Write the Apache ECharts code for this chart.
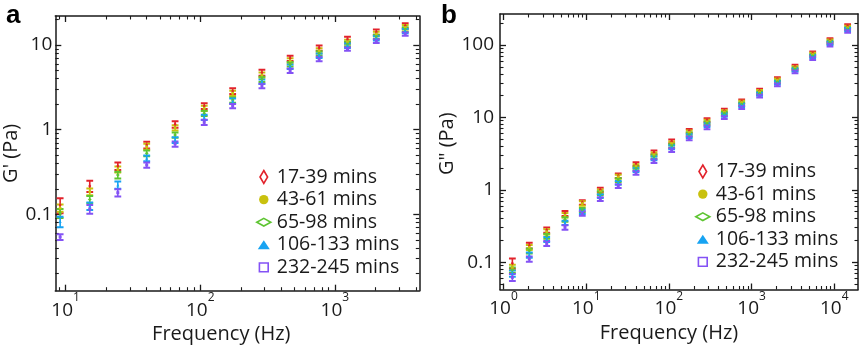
<!DOCTYPE html>
<html><head><meta charset="utf-8">
<script src="https://cdn.jsdelivr.net/npm/echarts@6/dist/echarts.min.js"></script>
<style>html,body{margin:0;padding:0;background:#fff}#c{width:859px;height:350px}</style>
</head><body><div id="c"></div>
<script>
// ---------------- data ----------------
const seriesNames = ['17-39 mins', '43-61 mins', '65-98 mins', '106-133 mins', '232-245 mins'];

// panel a : G' (Pa) vs frequency (Hz)
const freqA = [9.1, 15.1, 24.4, 40, 65, 107, 174, 287, 465, 764, 1240, 2030, 3330];
const gpA_17_39  = [0.129, 0.216, 0.372, 0.659, 1.156, 1.90, 2.86, 4.71, 6.97, 9.22, 11.7, 14.2, 16.9];
const gpA_43_61  = [0.119, 0.185, 0.340, 0.629, 1.054, 1.79, 2.69, 4.42, 6.53, 8.57, 10.9, 13.5, 16.2];
const gpA_65_98  = [0.103, 0.150, 0.291, 0.526, 0.865, 1.56, 2.24, 3.94, 5.92, 7.98, 10.3, 12.5, 15.3];
const gpA_106_133 = [0.082, 0.125, 0.222, 0.459, 0.755, 1.40, 2.18, 3.68, 5.54, 7.48, 9.81, 12.0, 14.6];
const gpA_232_245 = [0.054, 0.115, 0.180, 0.382, 0.677, 1.22, 1.90, 3.28, 4.97, 6.84, 8.97, 11.1, 13.5];
// relative error (±fraction)
const errA_17_39  = [0.20, 0.15, 0.10, 0.09, 0.09, 0.08, 0.08, 0.08, 0.07, 0.07, 0.07, 0.07, 0.07];
const errA_43_61  = [0.10, 0.09, 0.08, 0.08, 0.07, 0.07, 0.07, 0.07, 0.07, 0.07, 0.06, 0.06, 0.06];
const errA_65_98  = [0.12, 0.10, 0.09, 0.08, 0.07, 0.07, 0.07, 0.07, 0.06, 0.06, 0.06, 0.06, 0.06];
const errA_106_133 = [0.14, 0.10, 0.10, 0.08, 0.08, 0.07, 0.07, 0.06, 0.06, 0.06, 0.06, 0.06, 0.06];
const errA_232_245 = [0.08, 0.12, 0.10, 0.07, 0.07, 0.07, 0.06, 0.06, 0.06, 0.06, 0.05, 0.05, 0.05];

// panel b : G'' (Pa) vs frequency (Hz)
const freqB = [1.28, 2.05, 3.33, 5.54, 8.97, 14.8, 24.4, 40.0, 66.0, 108, 176, 289, 468, 759, 1250, 2050, 3350, 5480, 8870, 14500];
const gppB_17_39  = [0.097, 0.171, 0.279, 0.473, 0.672, 1.003, 1.57, 2.27, 3.30, 4.68, 6.55, 9.21, 12.4, 16.7, 23.4, 33.9, 50.2, 76.8, 117, 183];
const gppB_43_61  = [0.085, 0.161, 0.264, 0.448, 0.650, 0.951, 1.52, 2.13, 3.09, 4.39, 6.22, 8.73, 12.0, 16.2, 22.7, 32.8, 48.6, 74.4, 113.5, 175];
const gppB_65_98  = [0.078, 0.144, 0.230, 0.391, 0.526, 0.904, 1.37, 1.98, 2.87, 4.06, 5.84, 8.30, 11.4, 15.3, 21.5, 31.1, 46.6, 71.2, 109, 168];
const gppB_106_133 = [0.070, 0.126, 0.207, 0.351, 0.498, 0.821, 1.25, 1.88, 2.72, 3.86, 5.54, 7.86, 10.8, 14.7, 20.9, 30.1, 45.2, 68.9, 105.5, 163];
const gppB_232_245 = [0.062, 0.111, 0.182, 0.303, 0.473, 0.746, 1.13, 1.72, 2.50, 3.55, 5.15, 7.30, 10.0, 13.8, 19.8, 28.3, 42.8, 65.5, 100, 155];
const errB_17_39  = [0.16, 0.09, 0.08, 0.08, 0.07, 0.07, 0.07, 0.06, 0.06, 0.06, 0.06, 0.06, 0.06, 0.06, 0.06, 0.06, 0.06, 0.06, 0.06, 0.06];
const errB_43_61  = [0.09, 0.08, 0.08, 0.07, 0.07, 0.06, 0.06, 0.06, 0.06, 0.06, 0.06, 0.06, 0.05, 0.05, 0.05, 0.05, 0.05, 0.05, 0.05, 0.05];
const errB_65_98  = [0.09, 0.08, 0.08, 0.07, 0.07, 0.06, 0.06, 0.06, 0.06, 0.06, 0.06, 0.06, 0.05, 0.05, 0.05, 0.05, 0.05, 0.05, 0.05, 0.05];
const errB_106_133 = [0.10, 0.08, 0.08, 0.07, 0.07, 0.06, 0.06, 0.06, 0.06, 0.06, 0.06, 0.06, 0.05, 0.05, 0.05, 0.05, 0.05, 0.05, 0.05, 0.05];
const errB_232_245 = [0.11, 0.08, 0.08, 0.07, 0.07, 0.06, 0.06, 0.06, 0.06, 0.06, 0.06, 0.06, 0.05, 0.05, 0.05, 0.05, 0.05, 0.05, 0.05, 0.05];

// tick values
const majorXA = [10, 100, 1000];
const minorXA = [9, 20, 30, 40, 50, 60, 70, 80, 90, 200, 300, 400, 500, 600, 700, 800, 900, 2000, 3000, 4000];
const majorYA = [0.1, 1, 10];
const minorYA = [0.02, 0.03, 0.04, 0.05, 0.06, 0.07, 0.08, 0.09, 0.2, 0.3, 0.4, 0.5, 0.6, 0.7, 0.8, 0.9, 2, 3, 4, 5, 6, 7, 8, 9, 20];
const majorXB = [1, 10, 100, 1000, 10000];
const minorXB = [2, 3, 4, 5, 6, 7, 8, 9, 20, 30, 40, 50, 60, 70, 80, 90, 200, 300, 400, 500, 600, 700, 800, 900, 2000, 3000, 4000, 5000, 6000, 7000, 8000, 9000];
const majorYB = [0.1, 1, 10, 100];
const minorYB = [0.05, 0.06, 0.07, 0.08, 0.09, 0.2, 0.3, 0.4, 0.5, 0.6, 0.7, 0.8, 0.9, 2, 3, 4, 5, 6, 7, 8, 9, 20, 30, 40, 50, 60, 70, 80, 90, 200];

// ---------------- style ----------------
const FONT = '"Open Sans", "Liberation Sans", sans-serif';
const INK = '#1a1a1a';
const colors = ['#e2222b', '#c9c10e', '#5ec532', '#17a3f2', '#8452f5'];
const symbols = ['diamond', 'circle', 'diamond', 'triangle', 'rect'];
const symSizes = [[3, 4], 3, [4, 3], 3, 3];
const hollow = [true, false, true, false, true];
const legendIcons = [
  'path://M0,0M16,16M8,1.5L11.8,8L8,14.5L4.2,8Z',
  'path://M0,0M16,16M8,3.3A4.7,4.7,0,1,1,7.99,3.3Z',
  'path://M0,0M16,16M1,8L8,4.2L15,8L8,11.8Z',
  'path://M0,0M16,16M8,3.5L14,12.5L2,12.5Z',
  'path://M0,0M16,16M3.6,3.6L12.4,3.6L12.4,12.4L3.6,12.4Z'
];

function buildAxes(dim, gridIndex, min, max, major, minor, mainExtra) {
  const pos = dim === 'x' ? ['bottom', 'top'] : ['left', 'right'];
  const base = {
    type: 'log', logBase: 10, gridIndex: gridIndex, min: min, max: max,
    splitLine: { show: false }, minorTick: { show: false }, minorSplitLine: { show: false },
    axisLabel: { show: false }, axisPointer: { show: false }
  };
  const line = { show: true, onZero: false, lineStyle: { color: INK, width: 1.5 } };
  const out = [];
  pos.forEach(function (p, i) {
    out.push(Object.assign({}, base, {
      position: p, axisLine: line,
      axisTick: { show: true, inside: true, length: 6, customValues: major, lineStyle: { color: INK, width: 1.3 } }
    }, i === 0 ? mainExtra : {}));
    out.push(Object.assign({}, base, {
      position: p, axisLine: { show: false },
      axisTick: { show: true, inside: true, length: 3.5, customValues: minor, lineStyle: { color: INK, width: 1.1 } }
    }));
  });
  return out;
}

function xLabel(major, margin) {
  return {
    show: true, customValues: major, margin: margin, lineHeight: 28, color: INK,
    formatter: function (v) { return '{b|10}{s|' + Math.round(Math.log10(v)) + '}'; },
    rich: {
      b: { fontSize: 19, fontFamily: FONT, color: INK, verticalAlign: 'bottom' },
      s: { fontSize: 12, fontFamily: FONT, color: INK, verticalAlign: 'top' }
    }
  };
}
function yLabel(major, margin) {
  return {
    show: true, customValues: major, margin: margin, color: INK, fontSize: 19, fontFamily: FONT,
    formatter: function (v) { return String(+v.toPrecision(3)); }
  };
}

const xAxes = []
  .concat(buildAxes('x', 0, 8.375, 4236, majorXA, minorXA, {
    axisLabel: xLabel(majorXA, 1),
    name: 'Frequency (Hz)', nameLocation: 'middle', nameGap: 28,
    nameTextStyle: { fontSize: 20, fontFamily: FONT, color: INK, padding: [0, 32, 0, 0] }
  }))
  .concat(buildAxes('x', 1, 0.907, 19347, majorXB, minorXB, {
    axisLabel: xLabel(majorXB, 1),
    name: 'Frequency (Hz)', nameLocation: 'middle', nameGap: 28,
    nameTextStyle: { fontSize: 20, fontFamily: FONT, color: INK, padding: [0, 20, 0, 0] }
  }));
const yAxes = []
  .concat(buildAxes('y', 0, 0.01252, 22.0, majorYA, minorYA, {
    axisLabel: yLabel(majorYA, 3),
    name: "G' (Pa)", nameLocation: 'middle', nameGap: 23,
    nameTextStyle: { fontSize: 20, fontFamily: FONT, color: INK }
  }))
  .concat(buildAxes('y', 1, 0.0421, 268, majorYB, minorYB, {
    axisLabel: yLabel(majorYB, 6),
    name: 'G" (Pa)', nameLocation: 'middle', nameGap: 37,
    nameTextStyle: { fontSize: 20, fontFamily: FONT, color: INK, padding: [0, 0, 0, 16] }
  }));

function errRender(color) {
  return function (params, api) {
    const x = api.value(0);
    const pHi = api.coord([x, api.value(3)]);
    const pLo = api.coord([x, api.value(2)]);
    const w = 3.4;
    return {
      type: 'group', children: [
        { type: 'line', shape: { x1: pHi[0], y1: pHi[1], x2: pLo[0], y2: pLo[1] }, style: { stroke: color, lineWidth: 1.6 } },
        { type: 'line', shape: { x1: pHi[0] - w, y1: pHi[1], x2: pHi[0] + w, y2: pHi[1] }, style: { stroke: color, lineWidth: 2 } },
        { type: 'line', shape: { x1: pLo[0] - w, y1: pLo[1], x2: pLo[0] + w, y2: pLo[1] }, style: { stroke: color, lineWidth: 2 } }
      ]
    };
  };
}

const panels = [
  { freq: freqA, axis: 0, vals: [gpA_17_39, gpA_43_61, gpA_65_98, gpA_106_133, gpA_232_245], errs: [errA_17_39, errA_43_61, errA_65_98, errA_106_133, errA_232_245] },
  { freq: freqB, axis: 4, vals: [gppB_17_39, gppB_43_61, gppB_65_98, gppB_106_133, gppB_232_245], errs: [errB_17_39, errB_43_61, errB_65_98, errB_106_133, errB_232_245] }
];
const series = [];
panels.forEach(function (pn) {
  pn.vals.forEach(function (vals, k) {
    series.push({
      type: 'custom', name: seriesNames[k] + ' err', xAxisIndex: pn.axis, yAxisIndex: pn.axis,
      clip: true, silent: true, z: 2,
      renderItem: errRender(colors[k]),
      encode: { x: 0, y: [1, 2, 3] },
      data: vals.map(function (v, i) { return [pn.freq[i], v, v * (1 - pn.errs[k][i]), v * (1 + pn.errs[k][i])]; })
    });
  });
  pn.vals.forEach(function (vals, k) {
    series.push({
      type: 'scatter', name: seriesNames[k], xAxisIndex: pn.axis, yAxisIndex: pn.axis,
      symbol: symbols[k], symbolSize: symSizes[k], z: 3, silent: true,
      itemStyle: { color: colors[k], opacity: 1 },
      data: vals.map(function (v, i) { return [pn.freq[i], v]; })
    });
  });
});

const legendData = seriesNames.map(function (n, k) {
  return {
    name: n, icon: legendIcons[k],
    itemStyle: hollow[k] ? { color: '#ffffff', borderColor: colors[k], borderWidth: 1.6 }
                         : { color: colors[k], borderWidth: 0 }
  };
});
function mkLegend(left, top) {
  return {
    left: left, top: top, orient: 'vertical', itemWidth: 16, itemHeight: 16, itemGap: 2.6,
    selectedMode: false, padding: 0, symbolKeepAspect: true,
    textStyle: { fontSize: 19.5, fontFamily: FONT, color: INK, lineHeight: 20 },
    data: legendData
  };
}

const option = {
  animation: false,
  backgroundColor: '#ffffff',
  title: [
    { text: 'a', left: 6, top: 3, padding: 0, textStyle: { fontSize: 26, fontWeight: 'bold', fontFamily: '"Liberation Sans", sans-serif', color: '#000' } },
    { text: 'b', left: 441, top: 3, padding: 0, textStyle: { fontSize: 26, fontWeight: 'bold', fontFamily: '"Liberation Sans", sans-serif', color: '#000' } }
  ],
  grid: [
    { left: 55.3, top: 16, width: 364, height: 274.7, outerBoundsMode: 'none', containLabel: false },
    { left: 500, top: 14, width: 358, height: 275.5, outerBoundsMode: 'none', containLabel: false }
  ],
  legend: [mkLegend(255, 167), mkLegend(694, 161.5)],
  xAxis: xAxes,
  yAxis: yAxes,
  series: series
};
const chart = echarts.init(document.getElementById('c'), null, { renderer: 'canvas' });
chart.setOption(option);
</script>
</body></html>
